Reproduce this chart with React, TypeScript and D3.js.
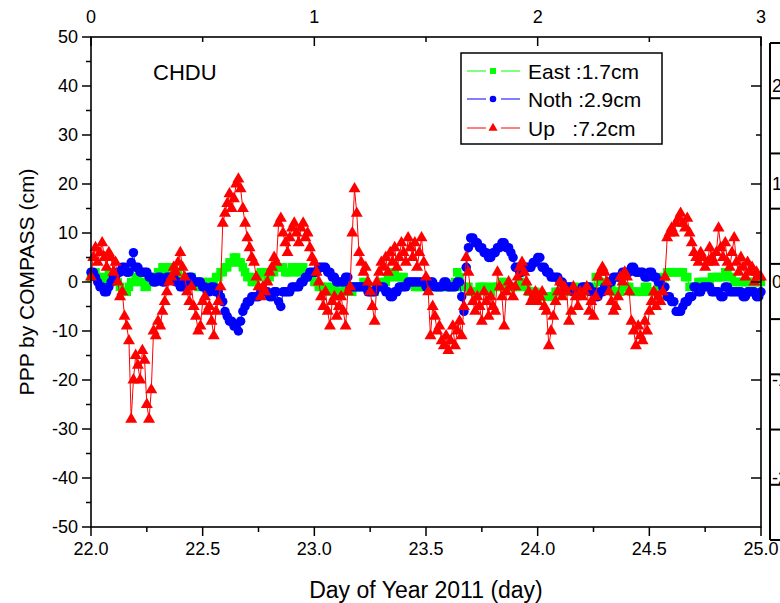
import React from 'react';
import * as d3 from 'd3';

// Sampling of the PPP solution (day of year, evenly spaced epochs)
const START_DAY = 22.0;
const SAMPLE_STEP = 0.01;

// Position residuals in cm, ten epochs per row
const eastCm = [
  1, 2, 2, 1, 1, 0, 0, 1, 2, 2,
  1, 1, 0, -1, -2, -2, -2, -1, 0, 0,
  1, 1, 0, 0, -1, -1, 0, 0, 1, 1,
  2, 2, 3, 3, 2, 2, 3, 3, 2, 2,
  1, 1, 0, 0, 1, 1, 0, 0, -1, -1,
  0, 0, -1, -1, 0, 0, 1, 1, 2, 2,
  3, 3, 4, 4, 5, 5, 4, 4, 3, 2,
  1, 1, 0, 0, 1, 1, 2, 2, 2, 1,
  1, 2, 2, 3, 3, 3, 3, 2, 2, 2,
  3, 3, 2, 2, 3, 3, 2, 2, 1, 1,
  0, 0, -1, -1, -1, -1, -2, -2, -1, -1,
  -2, -2, -2, -2, -1, -1, -2, -2, -1, -1,
  -1, -1, 0, 0, -1, -1, -2, -2, -1, -1,
  0, 0, 0, 1, 1, 2, 2, 1, 1, 1,
  1, 0, 0, 0, 0, -1, -1, -1, -1, -1,
  -1, -1, -1, -1, -1, -1, -1, -1, -1, -1,
  -1, -1, -1, 0, 2, 1, -1, -1, -1, -1,
  -2, -2, -2, -2, -1, -1, -1, -1, -2, -2,
  -1, -1, -1, -1, 0, 0, -1, -1, -1, -1,
  -1, -1, 0, 0, -1, -1, -2, -2, -2, -2,
  -3, -3, -3, -3, -3, -3, -3, -3, -2, -2,
  -2, -2, -2, -2, -2, -2, -1, -1, -2, -2,
  -2, -2, -1, -1, -1, -1, 1, 1, 0, 0,
  -1, -1, -1, -1, -2, -2, -2, -2, -1, -1,
  -1, -1, -2, -2, -2, -2, -2, -2, -1, -1,
  -2, -2, -2, -2, -1, -1, 1, 1, 2, 2,
  2, 2, 2, 2, 2, 2, 1, 1, -1, -1,
  -1, -1, 0, 0, 0, 0, 0, 0, 1, 1,
  1, 1, 1, 1, 2, 2, 1, 1, 0, 0,
  0, 0, 0, 0, 0, 0, 0, 0, 0, 0,
  0,
];

const northCm = [
  2, 2, 1, 0, -1, -1, -2, -2, -1, 0,
  1, 1, 2, 2, 3, 3, 2, 2, 4, 6,
  3, 3, 2, 2, 2, 2, 1, 1, 0, 0,
  1, 1, 0, 0, 1, 1, 1, 1, 0, 0,
  -1, -1, 0, 0, 1, 1, 0, 0, 0, 0,
  -1, -1, -2, -2, -1, -1, -2, -2, -3, -4,
  -6, -7, -8, -8, -9, -9, -10, -8, -6, -5,
  -4, -4, -3, -3, -3, -3, -2, -2, -2, -2,
  -3, -3, -2, -2, -4, -5, -2, -2, -2, -2,
  -1, -1, -1, -1, 0, 0, 1, 1, 2, 2,
  2, 2, 3, 3, 3, 3, 2, 2, 1, 1,
  0, 0, 0, 0, 1, 1, -1, -1, -1, -1,
  -1, -1, -1, -1, -2, -2, -2, -2, -1, -1,
  -1, -1, -2, -2, -3, -3, -2, -2, -1, -1,
  -1, -1, 0, 0, 0, 0, 0, 0, 0, 0,
  -1, -1, 0, 0, -1, -1, -1, -1, 0, 0,
  -1, -1, -1, -1, 0, 0, -3, -6, 3, 7,
  9, 9, 8, 8, 7, 7, 6, 6, 5, 5,
  6, 6, 7, 7, 8, 8, 7, 7, 6, 5,
  3, 3, 2, 2, 3, 3, 3, 3, 4, 4,
  5, 5, 3, 3, 2, 2, 1, 1, 1, 1,
  0, 0, -1, -1, -1, -1, -2, -2, -2, -2,
  -1, -1, -1, -1, -2, -2, -3, -3, -2, -2,
  -1, -1, 0, 0, 1, 1, 1, 1, 2, 2,
  2, 2, 3, 3, 2, 2, 2, 2, 1, 1,
  2, 2, 1, 1, 0, 0, -1, -1, -3, -3,
  -4, -4, -6, -6, -6, -5, -4, -4, -3, -3,
  -1, -1, -2, -2, -1, -1, -1, -1, -2, -2,
  -2, -2, -3, -3, -1, -1, -2, -2, -2, -2,
  -2, -2, -3, -3, -2, -2, -2, -2, -3, -3,
  -2,
];

const upCm = [
  1, 5, 7, 4, 6, 8, 5, 3, 6, 5,
  2, 4, 0, -3, -2, -7, -9, -12, -28, -20,
  -15, -17, -20, -14, -16, -25, -28, -22, -10, -11,
  -8, -9, -6, -4, -2, 0, 1, 3, 2, 4,
  6, 3, 1, -2, -4, -1, -5, -7, -10, -9,
  -4, -3, -6, -5, -8, -11, -6, -4, -1, 12,
  14, 16, 18, 15, 17, 20, 21, 19, 15, 12,
  9, 7, 5, 4, 1, -1, -3, -1, -2, 0,
  2, 3, 5, 4, 12, 13, 10, 8, 6, 9,
  11, 12, 10, 8, 11, 12, 9, 10, 7, 5,
  4, 2, 0, -3, -5, -2, -6, -9, -4, -3,
  -7, -5, -3, -6, -9, -2, -1, 10, 19, 14,
  6, 4, 2, 3, 0, -2, -5, -8, 0, 2,
  4, 3, 5, 2, 6, 4, 7, 3, 5, 8,
  6, 4, 9, 7, 5, 8, 3, 6, 9, 4,
  1, -2, -11, -5, -7, -10, -9, -12, -13, -11,
  -14, -12, -9, -13, -10, -8, -11, -5, 5, 2,
  -2, -4, -6, -3, -5, -8, -2, -4, -7, -3,
  -5, -6, 2, -1, -3, -9, -2, 0, -1, -3,
  -1, 1, 3, 4, 2, 0, -2, -4, -3, -2,
  -4, -3, -2, -5, -6, -13, -10, -7, -4, -2,
  0, -3, -1, -2, -8, -6, -1, -3, -5, -2,
  -3, -2, -1, -6, -4, -7, -3, 1, 2, 3,
  2, 0, -2, -4, -6, -5, -3, 1, 0, 2,
  1, -2, -8, -10, -13, -9, -11, -12, -8, -10,
  -6, -4, -2, -5, -3, -4, -2, 1, 9, 10,
  11, 10, 12, 13, 14, 12, 11, 13, 10, 8,
  6, 5, 4, 6, 5, 3, 4, 7, 5, 4,
  6, 11, 7, 5, 8, 4, 3, 6, 9, 4,
  2, 5, 3, 1, 4, 2, 3, 0, 2, 1,
  1,
];

const seriesNames = ['East', 'Noth', 'Up'];
const legendLabels = ['East :1.7cm', 'Noth :2.9cm', 'Up   :7.2cm'];
const seriesColors = ['#00ff00', '#0000ff', '#ff0000'];

const xMajorTicks = [22.0, 22.5, 23.0, 23.5, 24.0, 24.5, 25.0];
const xMinorTicks = [22.25, 22.75, 23.25, 23.75, 24.25, 24.75];
const yMajorTicks = [-50, -40, -30, -20, -10, 0, 10, 20, 30, 40, 50];
const yMinorTicks = [-45, -35, -25, -15, -5, 5, 15, 25, 35, 45];
const topMajorTicks = [0, 1, 2, 3];
const topMinorTicks = [0.5, 1.5, 2.5];
const rightMajorTicks = [-20, -10, 0, 10, 20];
const rightMinorTicks = [-15, -5, 5, 15];
const sideGridCount = 10;

const FONT = '"Liberation Sans", Arial, Helvetica, sans-serif';

const W = 780;
const H = 603;
const plot = { left: 91, right: 761, top: 37, bottom: 527 };

type Pt = { t: number; v: number };

export default function App() {
  const x = d3.scaleLinear().domain([22, 25]).range([plot.left, plot.right]);
  const y = d3.scaleLinear().domain([-50, 50]).range([plot.bottom, plot.top]);
  const xTop = d3.scaleLinear().domain([0, 3]).range([plot.left, plot.right]);
  const yRight = d3.scaleLinear().domain([-25, 25]).range([plot.bottom, plot.top]);
  const sideY = d3.scaleLinear().domain([0, sideGridCount - 1]).range([43, 540]);

  const allSeries: Pt[][] = [eastCm, northCm, upCm].map((vals) =>
    vals.map((v, i) => ({ t: START_DAY + i * SAMPLE_STEP, v }))
  );

  const line = d3
    .line<Pt>()
    .x((d) => x(d.t))
    .y((d) => y(d.v));

  const symbols = [
    d3.symbol().type(d3.symbolSquare).size(72)(),
    d3.symbol().type(d3.symbolCircle).size(70)(),
    d3.symbol().type(d3.symbolTriangle).size(62)(),
  ];
  const legendSymbols = [
    d3.symbol().type(d3.symbolSquare).size(36)(),
    d3.symbol().type(d3.symbolCircle).size(34)(),
    d3.symbol().type(d3.symbolTriangle).size(36)(),
  ];

  const legend = { x: 461, y: 53, w: 201, h: 91 };
  const legendRowY = [71, 99, 128];

  return (
    <svg
      width={W}
      height={H}
      style={{ position: 'absolute', left: 0, top: 0, background: '#fff' }}
      fontFamily={FONT}
    >
      <rect x={0} y={0} width={W} height={H} fill="#fff" />

      {/* data: connecting line then markers, per component */}
      {allSeries.map((pts, si) => (
        <g key={seriesNames[si]}>
          <path d={line(pts) || ''} fill="none" stroke={seriesColors[si]} strokeWidth={1} />
          {pts.map((p, i) => (
            <path
              key={i}
              d={symbols[si] || ''}
              transform={`translate(${x(p.t)},${y(p.v)})`}
              fill={seriesColors[si]}
            />
          ))}
        </g>
      ))}

      {/* frame */}
      <rect
        x={plot.left}
        y={plot.top}
        width={plot.right - plot.left}
        height={plot.bottom - plot.top}
        fill="none"
        stroke="#000"
        strokeWidth={1.6}
      />

      {/* left axis: outward ticks */}
      {yMajorTicks.map((v) => (
        <g key={'yl' + v}>
          <line x1={plot.left - 9} x2={plot.left} y1={y(v)} y2={y(v)} stroke="#000" strokeWidth={1.5} />
          <text x={plot.left - 13} y={y(v)} dy="0.35em" textAnchor="end" fontSize={18}>
            {v}
          </text>
        </g>
      ))}
      {yMinorTicks.map((v) => (
        <line key={'ym' + v} x1={plot.left - 5} x2={plot.left} y1={y(v)} y2={y(v)} stroke="#000" strokeWidth={1.5} />
      ))}

      {/* bottom axis: outward ticks */}
      {xMajorTicks.map((v) => (
        <g key={'xb' + v}>
          <line x1={x(v)} x2={x(v)} y1={plot.bottom} y2={plot.bottom + 9} stroke="#000" strokeWidth={1.5} />
          <text x={x(v)} y={plot.bottom + 28} textAnchor="middle" fontSize={18}>
            {v.toFixed(1)}
          </text>
        </g>
      ))}
      {xMinorTicks.map((v) => (
        <line key={'xm' + v} x1={x(v)} x2={x(v)} y1={plot.bottom} y2={plot.bottom + 5} stroke="#000" strokeWidth={1.5} />
      ))}

      {/* top axis: inward ticks */}
      {topMajorTicks.map((v) => (
        <g key={'xt' + v}>
          <line x1={xTop(v)} x2={xTop(v)} y1={plot.top} y2={plot.top + 9} stroke="#000" strokeWidth={1.5} />
          <text x={xTop(v)} y={plot.top - 14} textAnchor="middle" fontSize={18}>
            {v}
          </text>
        </g>
      ))}
      {topMinorTicks.map((v) => (
        <line key={'xtm' + v} x1={xTop(v)} x2={xTop(v)} y1={plot.top} y2={plot.top + 5} stroke="#000" strokeWidth={1.5} />
      ))}

      {/* right axis: inward ticks */}
      {rightMajorTicks.map((v) => (
        <g key={'yr' + v}>
          <line x1={plot.right - 10} x2={plot.right} y1={yRight(v)} y2={yRight(v)} stroke="#000" strokeWidth={1.5} />
          <text x={772} y={yRight(v)} dy="0.35em" textAnchor="start" fontSize={18}>
            {v}
          </text>
        </g>
      ))}
      {rightMinorTicks.map((v) => (
        <line key={'yrm' + v} x1={plot.right - 5} x2={plot.right} y1={yRight(v)} y2={yRight(v)} stroke="#000" strokeWidth={1.5} />
      ))}

      {/* neighbouring panel edge */}
      <line x1={770} x2={770} y1={sideY(0)} y2={sideY(sideGridCount - 1)} stroke="#000" strokeWidth={2} />
      {d3.range(sideGridCount).map((k) => (
        <line key={'sg' + k} x1={770} x2={780} y1={sideY(k)} y2={sideY(k)} stroke="#000" strokeWidth={2} />
      ))}

      {/* station label */}
      <text x={153} y={80} fontSize={22}>
        CHDU
      </text>

      {/* legend */}
      <rect x={legend.x} y={legend.y} width={legend.w} height={legend.h} fill="#fff" stroke="#000" strokeWidth={1.5} />
      {legendLabels.map((lab, i) => (
        <g key={lab}>
          <line x1={467} x2={486} y1={legendRowY[i]} y2={legendRowY[i]} stroke={seriesColors[i]} strokeWidth={1} />
          <line x1={501} x2={520} y1={legendRowY[i]} y2={legendRowY[i]} stroke={seriesColors[i]} strokeWidth={1} />
          <path d={legendSymbols[i] || ''} transform={`translate(493,${legendRowY[i]})`} fill={seriesColors[i]} />
          <text x={528} y={legendRowY[i]} dy="0.36em" fontSize={21} style={{ whiteSpace: 'pre' }}>
            {lab}
          </text>
        </g>
      ))}

      {/* axis titles */}
      <text x={426} y={598} textAnchor="middle" fontSize={23}>
        Day of Year 2011 (day)
      </text>
      <text
        transform={`translate(34,${(plot.top + plot.bottom) / 2}) rotate(-90)`}
        textAnchor="middle"
        fontSize={21}
      >
        PPP by COMPASS (cm)
      </text>
    </svg>
  );
}
